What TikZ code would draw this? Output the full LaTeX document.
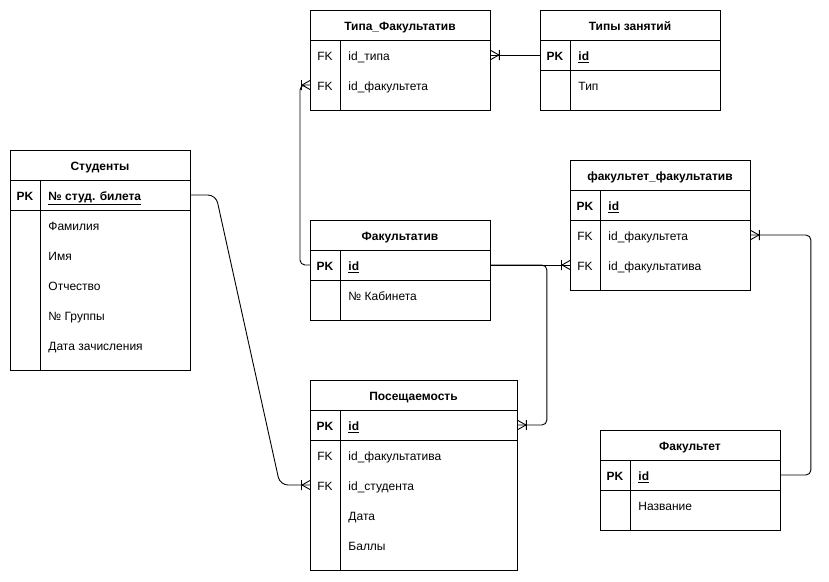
\documentclass[tikz,border=0pt]{standalone}
\usepackage{fontspec}
\setmainfont{Liberation Sans}
\usetikzlibrary{arrows.meta,calc}

% crow's foot ("one or many") end
\pgfdeclarearrow{
  name=crow,
  setup code={
    \pgfarrowssettipend{0pt}
    \pgfarrowssetlineend{0pt}
    \pgfarrowssetbackend{-10pt}
    \pgfarrowshullpoint{0pt}{5pt}
    \pgfarrowshullpoint{0pt}{-5pt}
    \pgfarrowshullpoint{-10pt}{5pt}
    \pgfarrowshullpoint{-10pt}{-5pt}
  },
  drawing code={
    \pgfsetdash{}{0pt}
    \pgfpathmoveto{\pgfqpoint{0pt}{4.5pt}}
    \pgfpathlineto{\pgfqpoint{-8pt}{0pt}}
    \pgfpathlineto{\pgfqpoint{0pt}{-4.5pt}}
    \pgfpathmoveto{\pgfqpoint{-8.5pt}{5pt}}
    \pgfpathlineto{\pgfqpoint{-8.5pt}{-5pt}}
    \pgfusepathqstroke
  }
}

\begin{document}
\begin{tikzpicture}[x=1pt,y=-1pt,
  font=\fontsize{12}{14}\selectfont,
  line width=0.9pt,
  tbl/.style={draw,anchor=north west,inner sep=0pt},
  head/.style={font=\fontsize{12}{14}\selectfont\bfseries,inner sep=0pt,text height=12pt,text depth=1pt},
  key/.style={inner sep=0pt,text height=12pt,text depth=1pt},
  pk/.style={key,font=\fontsize{12}{14}\selectfont\bfseries},
  fld/.style={key,anchor=west},
  pkfld/.style={fld,font=\fontsize{12}{14}\selectfont\bfseries},
  rel/.style={-{crow},rounded corners=5pt}]
  \useasboundingbox (0,0) rectangle (829,581);

  % Типа_Факультатив
  \node[tbl,minimum width=180pt,minimum height=100pt] (tf) at (310,10) {};
  \node[head] (tf-h) at (400,25) {Типа\_Факультатив};
  \draw (310,40) -- (490,40) (340,40) -- (340,110);
  \node[key] (tf-k1) at (325,55) {FK}; \node[fld] (tf-tip) at (348,55) {id\_типа};
  \node[key] (tf-k2) at (325,85) {FK}; \node[fld] (tf-fac) at (348,85) {id\_факультета};

  % Типы занятий
  \node[tbl,minimum width=180pt,minimum height=100pt] (tz) at (540,10) {};
  \node[head] (tz-h) at (630,25) {Типы занятий};
  \draw (540,40) -- (720,40) (540,70) -- (720,70) (570,40) -- (570,110);
  \node[pk] (tz-k1) at (555,55) {PK}; \node[pkfld] (tz-id) at (578,55) {\underline{id}};
  \node[fld] (tz-tip) at (578,85) {Тип};

  % Студенты
  \node[tbl,minimum width=180pt,minimum height=220pt] (st) at (10,150) {};
  \node[head] (st-h) at (100,165) {Студенты};
  \draw (10,180) -- (190,180) (10,210) -- (190,210) (40,180) -- (40,370);
  \node[pk] (st-k1) at (25,195) {PK}; \node[pkfld] (st-id) at (48,195) {\underline{№ студ. билета}};
  \node[fld] (st-fam) at (48,225) {Фамилия};
  \node[fld] (st-name) at (48,255) {Имя};
  \node[fld] (st-otch) at (48,285) {Отчество};
  \node[fld] (st-gr) at (48,315) {№ Группы};
  \node[fld] (st-date) at (48,345) {Дата зачисления};

  % Факультатив
  \node[tbl,minimum width=180pt,minimum height=100pt] (fk) at (310,220) {};
  \node[head] (fk-h) at (400,235) {Факультатив};
  \draw (310,250) -- (490,250) (310,280) -- (490,280) (340,250) -- (340,320);
  \node[pk] (fk-k1) at (325,265) {PK}; \node[pkfld] (fk-id) at (348,265) {\underline{id}};
  \node[fld] (fk-kab) at (348,295) {№ Кабинета};

  % факультет_факультатив
  \node[tbl,minimum width=180pt,minimum height=130pt] (ff) at (570,160) {};
  \node[head] (ff-h) at (660,175) {факультет\_факультатив};
  \draw (570,190) -- (750,190) (570,220) -- (750,220) (600,190) -- (600,290);
  \node[pk] (ff-k1) at (585,205) {PK}; \node[pkfld] (ff-id) at (608,205) {\underline{id}};
  \node[key] (ff-k2) at (585,235) {FK}; \node[fld] (ff-fac) at (608,235) {id\_факультета};
  \node[key] (ff-k3) at (585,265) {FK}; \node[fld] (ff-fkt) at (608,265) {id\_факультатива};

  % Посещаемость
  \node[tbl,minimum width=207pt,minimum height=190pt] (ps) at (310,380) {};
  \node[head] (ps-h) at (413.5,395) {Посещаемость};
  \draw (310,410) -- (517,410) (310,440) -- (517,440) (340,410) -- (340,570);
  \node[pk] (ps-k1) at (325,425) {PK}; \node[pkfld] (ps-id) at (348,425) {\underline{id}};
  \node[key] (ps-k2) at (325,455) {FK}; \node[fld] (ps-fkt) at (348,455) {id\_факультатива};
  \node[key] (ps-k3) at (325,485) {FK}; \node[fld] (ps-st) at (348,485) {id\_студента};
  \node[fld] (ps-date) at (348,515) {Дата};
  \node[fld] (ps-ball) at (348,545) {Баллы};

  % Факультет
  \node[tbl,minimum width=180pt,minimum height=100pt] (fc) at (600,430) {};
  \node[head] (fc-h) at (690,445) {Факультет};
  \draw (600,460) -- (780,460) (600,490) -- (780,490) (630,460) -- (630,530);
  \node[pk] (fc-k1) at (615,475) {PK}; \node[pkfld] (fc-id) at (638,475) {\underline{id}};
  \node[fld] (fc-name) at (638,505) {Название};

  % связи
  \draw[rel] (tz.west |- tz-id) -- (tf.east |- tf-tip);
  \draw[rel] (fk.west |- fk-id) -- ++(-10,0) |- (tf.west |- tf-fac);
  \draw[rel] (fk.east |- fk-id) -- (ff.west |- ff-fkt);
  \draw[rel] (fk.east |- fk-id) -- ++(56,0) |- (ps.east |- ps-id);
  \draw[rel,rounded corners=8pt] (st.east |- st-id) -- ++(25,0) -- ($(ps.west |- ps-st)+(-30,0)$) -- (ps.west |- ps-st);
  \draw[rel] (fc.east |- fc-id) -- ++(30,0) |- (ff.east |- ff-fac);
\end{tikzpicture}
\end{document}
